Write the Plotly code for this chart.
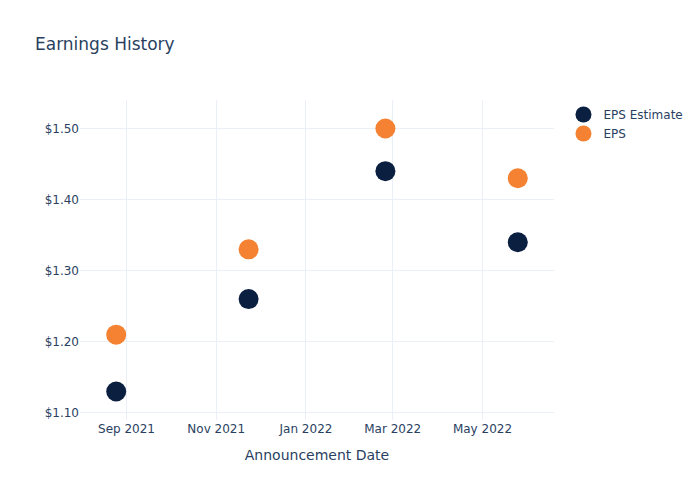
import plotly.graph_objects as go

dates = ["2021-08-25", "2021-11-23", "2022-02-24", "2022-05-25"]
eps_estimate = [1.13, 1.26, 1.44, 1.34]
eps_actual = [1.21, 1.33, 1.50, 1.43]

fig = go.Figure()
fig.add_trace(go.Scatter(x=dates, y=eps_estimate, mode="markers", name="EPS Estimate",
                         marker=dict(color="#0b1f41", size=20)))
fig.add_trace(go.Scatter(x=dates, y=eps_actual, mode="markers", name="EPS",
                         marker=dict(color="#f58232", size=20)))
fig.update_layout(
    template="plotly_white",
    width=700, height=500,
    font=dict(family="DejaVu Sans"),
    title=dict(text="Earnings History"),
    xaxis=dict(title=dict(text="Announcement Date")),
    yaxis=dict(tickprefix="$", tickformat=".2f", dtick=0.1),
)
fig.write_html("out.html", config={"displayModeBar": False},
               post_script="document.body.style.margin='0px';")
